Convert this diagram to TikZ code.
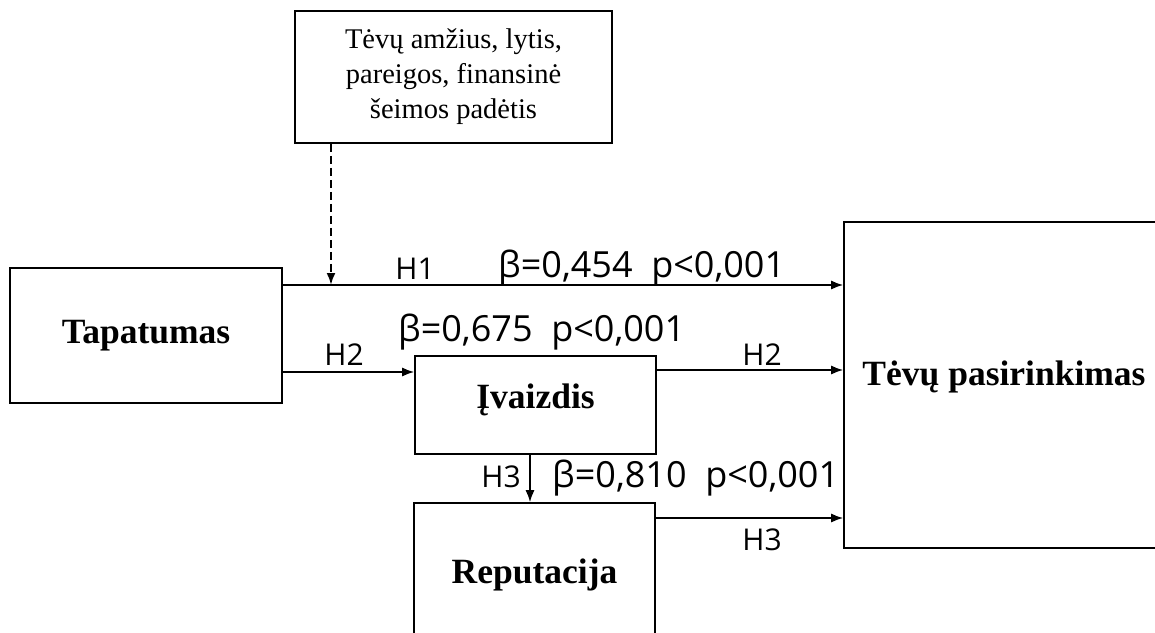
\documentclass[tikz,border=0pt]{standalone}
\usepackage{fontspec}
\setmainfont{Liberation Serif}
\newfontfamily\labsans{Open Sans}
\usetikzlibrary{arrows.meta}
\begin{document}
\begin{tikzpicture}[x=1pt,y=-1pt,
  box/.style={draw, line width=1.6pt, inner sep=0pt},
  bigb/.style={font=\fontsize{35.5}{40}\selectfont\bfseries},
  arr/.style={line width=1.6pt, -{Latex[length=12pt,width=9pt]}},
  hl/.style={font=\labsans\fontsize{30}{33}\selectfont, inner sep=0pt, anchor=base},
  bl/.style={font=\labsans\fontsize{36}{40}\selectfont, inner sep=0pt, anchor=base west}]
\useasboundingbox (0,0) rectangle (1155,632);
\clip (0,0) rectangle (1155,632);
\fill[white] (0,0) rectangle (1155,632);

\node[box, minimum width=317pt, minimum height=132pt, align=center,
      font=\fontsize{28.5}{35}\selectfont] (ctl) at (453.5,77)
  {Tėvų amžius, lytis,\\pareigos, finansinė\\šeimos padėtis};
\node[box, bigb, minimum width=272pt, minimum height=135pt] (tap) at (146,335.5) {Tapatumas};
\node[box, bigb, minimum width=241pt, minimum height=98pt, text height=24pt, text depth=18pt] (iv) at (535.5,405) {Įvaizdis};
\node[box, bigb, minimum width=241pt, minimum height=144pt, text height=24pt, text depth=8pt] (rep) at (534.5,575) {Reputacija};
\node[box, bigb, minimum width=320pt, minimum height=326pt, text height=12pt, text depth=12pt] (tp) at (1004,385) {Tėvų pasirinkimas};

\coordinate (y1) at (0,285);
\coordinate (y2) at (0,372);
\coordinate (y3) at (0,370);
\coordinate (x4) at (530,0);
\coordinate (y5) at (0,518);
\coordinate (x6) at (331,0);

\draw[arr] (tap.east |- y1) -- (tp.west |- y1);
\draw[arr] (tap.east |- y2) -- (iv.west |- y2);
\draw[arr] (iv.east |- y3) -- (tp.west |- y3);
\draw[arr] (iv.south -| x4) -- (rep.north -| x4);
\draw[arr] (rep.east |- y5) -- (tp.west |- y5);
\draw[arr, line width=2.2pt, dash pattern=on 8pt off 4pt] (ctl.south -| x6) -- (x6 |- y1);

\node[hl] (lh1) at (415,279) {H1};
\node[hl] (lh2a) at (344,365) {H2};
\node[hl] (lh2b) at (762,365) {H2};
\node[hl] (lh3a) at (501,487) {H3};
\node[hl] (lh3b) at (762,550) {H3};
\node[bl] (b1) at (498,277) {β=0,454\ \ p<0,001};
\node[bl] (b2) at (398,341) {β=0,675\ \ p<0,001};
\node[bl] (b3) at (552,487) {β=0,810\ \ p<0,001};
\end{tikzpicture}
\end{document}
